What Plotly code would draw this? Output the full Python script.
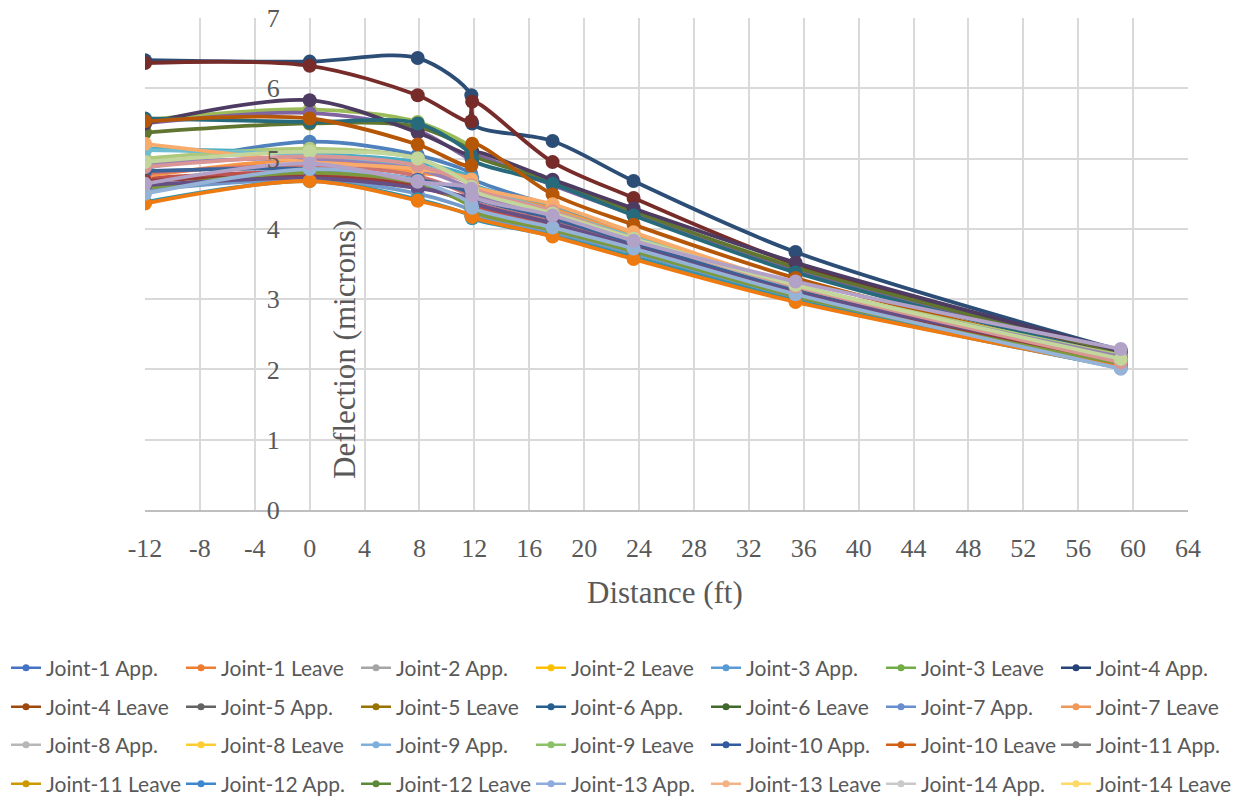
import plotly.graph_objects as go

# Sensor offsets from the joint (ft); two readings are taken at the 12 ft station
distance_ft = [-12, 0, 7.87, 11.78, 11.84, 17.7, 23.6, 35.4, 59.1]

x_ticks = list(range(-12, 65, 4))
x_tick_labels = [str(v) for v in x_ticks]
y_ticks = list(range(0, 8))
y_tick_labels = [str(v) for v in y_ticks]

series_names = [
    "Joint-1 App.", "Joint-1 Leave", "Joint-2 App.", "Joint-2 Leave",
    "Joint-3 App.", "Joint-3 Leave", "Joint-4 App.", "Joint-4 Leave",
    "Joint-5 App.", "Joint-5 Leave", "Joint-6 App.", "Joint-6 Leave",
    "Joint-7 App.", "Joint-7 Leave", "Joint-8 App.", "Joint-8 Leave",
    "Joint-9 App.", "Joint-9 Leave", "Joint-10 App.", "Joint-10 Leave",
    "Joint-11 App.", "Joint-11 Leave", "Joint-12 App.", "Joint-12 Leave",
    "Joint-13 App.", "Joint-13 Leave", "Joint-14 App.", "Joint-14 Leave",
]

# Deflection (microns) for each pass, one list per series
joint1_app = [4.86, 5.24, 5.05, 4.78, 4.72, 4.32, 3.92, 3.12, 2.10]
joint1_leave = [4.72, 4.80, 4.62, 4.40, 4.35, 4.05, 3.72, 3.05, 2.05]
joint2_app = [5.55, 5.70, 5.52, 5.15, 5.10, 4.66, 4.22, 3.47, 2.25]
joint2_leave = [5.50, 5.65, 5.40, 5.00, 5.05, 4.62, 4.20, 3.42, 2.23]
joint3_app = [5.14, 5.07, 4.95, 4.72, 4.65, 4.30, 3.90, 3.15, 2.10]
joint3_leave = [4.75, 4.98, 4.80, 4.68, 4.60, 4.28, 3.90, 3.15, 2.12]
joint4_app = [6.40, 6.38, 6.43, 5.90, 5.50, 5.25, 4.68, 3.67, 2.27]
joint4_leave = [6.36, 6.32, 5.90, 5.53, 5.81, 4.95, 4.44, 3.50, 2.22]
joint5_app = [5.37, 5.50, 5.45, 5.10, 5.05, 4.68, 4.25, 3.45, 2.24]
joint5_leave = [5.50, 5.83, 5.37, 5.05, 5.10, 4.70, 4.29, 3.52, 2.26]
joint6_app = [5.57, 5.52, 5.50, 5.05, 4.98, 4.64, 4.19, 3.38, 2.18]
joint6_leave = [5.53, 5.57, 5.20, 4.90, 5.21, 4.49, 4.06, 3.30, 2.14]
joint7_app = [4.55, 4.70, 4.50, 4.25, 4.20, 3.95, 3.65, 3.02, 2.05]
joint7_leave = [4.79, 4.90, 4.75, 4.45, 4.40, 4.10, 3.78, 3.10, 2.08]
joint8_app = [5.00, 5.14, 5.00, 4.62, 4.55, 4.25, 3.88, 3.20, 2.20]
joint8_leave = [4.93, 5.00, 4.85, 4.55, 4.50, 4.20, 3.85, 3.18, 2.18]
joint9_app = [5.12, 5.05, 4.90, 4.65, 4.62, 4.25, 3.88, 3.12, 2.08]
joint9_leave = [5.21, 4.95, 4.85, 4.70, 4.62, 4.35, 3.95, 3.20, 2.12]
joint10_app = [4.82, 4.85, 4.70, 4.50, 4.45, 4.15, 3.80, 3.12, 2.12]
joint10_leave = [4.68, 4.75, 4.60, 4.35, 4.30, 4.00, 3.70, 3.08, 2.10]
joint11_app = [4.58, 4.80, 4.65, 4.30, 4.25, 3.98, 3.68, 3.04, 2.06]
joint11_leave = [4.62, 4.72, 4.58, 4.42, 4.38, 4.08, 3.75, 3.10, 2.15]
joint12_app = [4.38, 4.68, 4.42, 4.18, 4.15, 3.90, 3.60, 2.98, 2.02]
joint12_leave = [4.36, 4.68, 4.40, 4.19, 4.17, 3.89, 3.57, 2.96, 2.03]
joint13_app = [4.50, 4.85, 4.68, 4.35, 4.30, 4.02, 3.72, 3.07, 2.01]
joint13_leave = [4.88, 5.03, 4.90, 4.62, 4.58, 4.25, 3.86, 3.18, 2.10]
joint14_app = [4.95, 5.10, 5.00, 4.60, 4.55, 4.22, 3.86, 3.20, 2.15]
joint14_leave = [4.64, 4.93, 4.67, 4.57, 4.47, 4.19, 3.83, 3.25, 2.29]

deflections = [
    joint1_app, joint1_leave, joint2_app, joint2_leave, joint3_app, joint3_leave,
    joint4_app, joint4_leave, joint5_app, joint5_leave, joint6_app, joint6_leave,
    joint7_app, joint7_leave, joint8_app, joint8_leave, joint9_app, joint9_leave,
    joint10_app, joint10_leave, joint11_app, joint11_leave, joint12_app, joint12_leave,
    joint13_app, joint13_leave, joint14_app, joint14_leave,
]

# Colours of the plotted curves
line_colors = [
    "#4F81BD", "#C0504D", "#9BBB59", "#8064A2", "#4BACC6", "#F79646",
    "#2C4D75", "#772C2A", "#5F7530", "#4D3B62", "#276A7C", "#B65708",
    "#729ACA", "#CD7371", "#AFC97A", "#9983B5", "#6FBDD1", "#F9AB6B",
    "#3A6296", "#963B38", "#7B9A3E", "#654F84", "#3392AC", "#EE7A12",
    "#95B3D7", "#D99694", "#C3D69B", "#B3A2C7",
]

# Colours of the legend keys
key_colors = [
    "#4472C4", "#ED7D31", "#A5A5A5", "#FFC000", "#5B9BD5", "#70AD47",
    "#264478", "#9E480E", "#636363", "#997300", "#255E91", "#43682B",
    "#698ED0", "#F1975A", "#B7B7B7", "#FFCD33", "#7CAFDD", "#8CC168",
    "#335AA1", "#D26012", "#848484", "#CC9A00", "#3C87CD", "#5A8A39",
    "#8FAADC", "#F4B183", "#C9C9C9", "#FFD966",
]

fig = go.Figure()

for name, vals, col in zip(series_names, deflections, line_colors):
    fig.add_trace(go.Scatter(
        x=distance_ft, y=vals, name=name, mode="lines+markers",
        line=dict(color=col, width=3.8, shape="spline", smoothing=0.9),
        marker=dict(color=col, size=14),
        showlegend=False,
    ))

W, H = 1241, 796
left, right, top, bottom = 145, 1188, 18, 510

# Legend keys: seven columns by four rows below the plot, one small legend per key
legend_font = dict(family="Lato, Open Sans, sans-serif", size=21, color="#595959")
col_pitch, first_col = 175, 6
row_y = [668, 707, 745, 784]
legends = {}
for i, (name, col) in enumerate(zip(series_names, key_colors)):
    lid = "legend" if i == 0 else f"legend{i + 1}"
    r, c = divmod(i, 7)
    legends[lid] = dict(
        xref="container", yref="container",
        x=(first_col + c * col_pitch) / W, y=1 - row_y[r] / H,
        xanchor="left", yanchor="middle", orientation="h",
        itemwidth=30, font=legend_font, bgcolor="rgba(0,0,0,0)",
    )
    fig.add_trace(go.Scatter(
        x=[None], y=[None], name=name, mode="lines+markers",
        line=dict(color=col, width=2.5), marker=dict(color=col, size=7),
        legend=lid,
    ))

grid = "#D9D9D9"
serif = "Liberation Serif, Times New Roman, serif"
tick_font = dict(family=serif, size=26, color="#595959")
title_font = dict(family=serif, size=31, color="#595959")

x0_frac = (0 - x_ticks[0]) / (x_ticks[-1] - x_ticks[0])

fig.update_layout(
    width=W, height=H,
    margin=dict(l=left, r=W - right, t=top, b=H - bottom, autoexpand=False),
    paper_bgcolor="white", plot_bgcolor="white",
    xaxis=dict(
        range=[x_ticks[0], x_ticks[-1]], tickmode="array", tickvals=x_ticks,
        ticktext=x_tick_labels, showgrid=True, gridcolor=grid, gridwidth=1.5,
        zeroline=False, showline=True, linecolor="#BFBFBF", linewidth=1.5,
        ticks="", tickfont=tick_font, ticklabelstandoff=14, automargin=False,
    ),
    yaxis=dict(
        range=[y_ticks[0], y_ticks[-1]], tickmode="array", tickvals=y_ticks,
        ticktext=y_tick_labels, showgrid=True, gridcolor=grid, gridwidth=1.5,
        zeroline=False, showline=False, anchor="free", position=x0_frac,
        ticks="", tickfont=tick_font, ticklabelstandoff=30, automargin=False,
    ),
    annotations=[
        dict(
            text="Deflection (microns)", textangle=-90, showarrow=False,
            xref="paper", yref="paper",
            x=(344 - left) / (right - left), y=(bottom - 350) / (bottom - top),
            xanchor="center", yanchor="middle", font=title_font,
        ),
        dict(
            text="Distance (ft)", showarrow=False,
            xref="paper", yref="paper",
            x=(665 - left) / (right - left), y=-(592 - bottom) / (bottom - top),
            xanchor="center", yanchor="middle", font=title_font,
        ),
    ],
    **legends,
)

fig.write_html("out.html")
